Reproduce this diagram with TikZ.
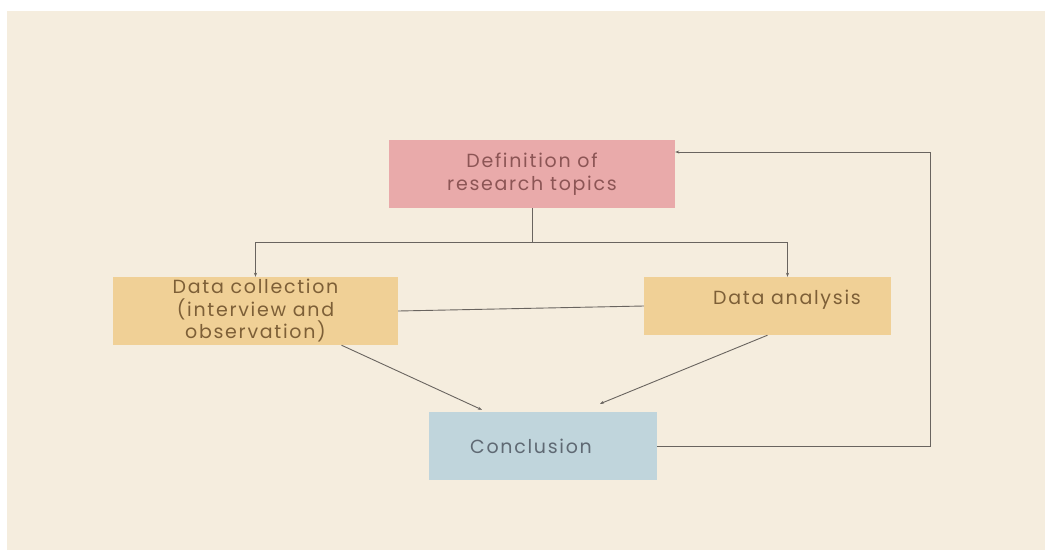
\documentclass[tikz,border=0pt]{standalone}
\usepackage{fontspec}
\setmainfont{Poppins}[LetterSpace=9]
\usetikzlibrary{arrows.meta}
\definecolor{paper}{RGB}{245,237,222}
\definecolor{rosebox}{RGB}{233,170,170}
\definecolor{sandbox}{RGB}{240,208,150}
\definecolor{skybox}{RGB}{192,213,220}
\definecolor{rosetext}{RGB}{140,85,85}
\definecolor{sandtext}{RGB}{125,95,55}
\definecolor{skytext}{RGB}{95,105,115}
\definecolor{wire}{RGB}{105,100,95}
\tikzset{
  stage/.style={minimum width=#1, inner sep=0pt, font=\fontsize{19}{22.5}\selectfont, align=center},
  link/.style={draw=wire, line width=0.9pt},
  tip/.style={link, -{Stealth[length=4pt,width=3pt]}}
}
\begin{document}
\begin{tikzpicture}[x=1pt,y=-1pt]
  \useasboundingbox (0,0) rectangle (1045,550);
  \fill[paper] (7,11) rectangle (1045,550);
  \node[stage=286, minimum height=68, fill=rosebox, text=rosetext] (def) at (532,174) {Definition of\\research topics};
  \node[stage=285, minimum height=68, fill=sandbox, text=sandtext] (col) at (255.5,311) {Data collection\\(interview and\\observation)};
  \node[stage=247, minimum height=58, fill=sandbox] (ana) at (767.5,306) {};
  \node[stage=10, text=sandtext] (anatext) at (787,300) {Data analysis};
  \node[stage=228, minimum height=68, fill=skybox] (con) at (543,446) {};
  \node[stage=10, text=skytext] (context) at (531,446) {Conclusion};
  % split below the topic box
  \coordinate (split) at (532,242);
  \draw[link] (def.south) -- (split);
  \draw[tip] (split) -| (col.north);
  \draw[tip] (split) -| ([xshift=20]ana.north);
  \draw[link] (col.east) -- (ana.west);
  \draw[tip] ([xshift=86]col.south) -- ([xshift=-61,yshift=2]con.north);
  \draw[tip] (ana.south) -- ([xshift=57,yshift=8]con.north);
  % loop back to the top
  \coordinate (back) at (930,446);
  \draw[tip] (con.east) -- (back) |- ([yshift=22]def.east);
\end{tikzpicture}
\end{document}
